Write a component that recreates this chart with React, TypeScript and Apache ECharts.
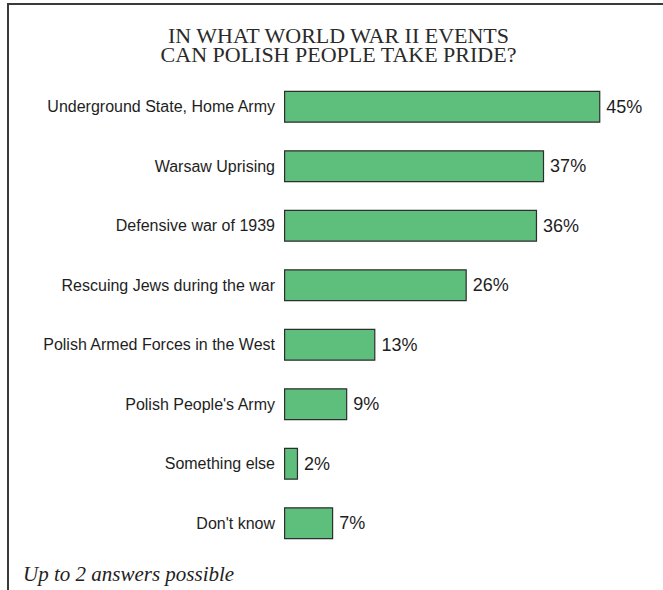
import React, { useEffect, useRef } from "react";
import * as echarts from "echarts";

const categories = [
  "Underground State, Home Army",
  "Warsaw Uprising",
  "Defensive war of 1939",
  "Rescuing Jews during the war",
  "Polish Armed Forces in the West",
  "Polish People's Army",
  "Something else",
  "Don't know",
];
const values = [45, 37, 36, 26, 13, 9, 2, 7];
const titleLines = ["IN WHAT WORLD WAR II EVENTS", "CAN POLISH PEOPLE TAKE PRIDE?"];
const footnote = "Up to 2 answers possible";

export default function App() {
  const ref = useRef<HTMLDivElement>(null);
  useEffect(() => {
    if (!ref.current) return;
    const chart = echarts.init(ref.current, null, { renderer: "svg" });
    chart.setOption({
      animation: false,
      backgroundColor: "#ffffff",
      grid: { left: 284, top: 77, width: 351.5, height: 476, containLabel: false },
      xAxis: {
        type: "value",
        min: 0,
        max: 50,
        show: false,
      },
      yAxis: {
        type: "category",
        data: categories,
        inverse: true,
        axisLine: { show: false },
        axisTick: { show: false },
        splitLine: { show: false },
        axisLabel: {
          margin: 9,
          fontSize: 16,
          color: "#1e1e1e",
          fontFamily: "'Liberation Sans', Arial, sans-serif",
        },
      },
      series: [
        {
          type: "bar",
          data: values,
          barWidth: 32,
          itemStyle: {
            color: "#5ebe7c",
            borderColor: "#2e2e2e",
            borderWidth: 1.2,
          },
          label: {
            show: true,
            position: "right",
            distance: 6,
            formatter: "{c}%",
            fontSize: 18,
            color: "#1e1e1e",
            fontFamily: "'Liberation Sans', Arial, sans-serif",
          },
        },
      ],
      graphic: [
        {
          type: "line",
          shape: { x1: 7, y1: 4, x2: 663, y2: 4 },
          style: { stroke: "#3a3a3a", lineWidth: 2 },
        },
        {
          type: "line",
          shape: { x1: 8, y1: 3, x2: 8, y2: 590 },
          style: { stroke: "#3a3a3a", lineWidth: 2 },
        },
        {
          type: "text",
          x: 338.5,
          y: 36,
          scaleX: 1.1,
          style: {
            text: titleLines[0],
            fontSize: 20,
            fontFamily: "'Liberation Serif', 'Times New Roman', serif",
            fill: "#2a2a2a",
            align: "center",
            verticalAlign: "middle",
          },
        },
        {
          type: "text",
          x: 338.5,
          y: 55,
          scaleX: 1.1,
          style: {
            text: titleLines[1],
            fontSize: 20,
            fontFamily: "'Liberation Serif', 'Times New Roman', serif",
            fill: "#2a2a2a",
            align: "center",
            verticalAlign: "middle",
          },
        },
        {
          type: "text",
          x: 23,
          y: 574,
          style: {
            text: footnote,
            fontSize: 21,
            fontStyle: "italic",
            fontFamily: "'Liberation Serif', 'Times New Roman', serif",
            fill: "#222",
            align: "left",
            verticalAlign: "middle",
          },
        },
      ],
    });
    return () => chart.dispose();
  }, []);
  return (
    <div
      ref={ref}
      style={{ position: "absolute", left: 0, top: 0, width: 663, height: 590 }}
    />
  );
}
